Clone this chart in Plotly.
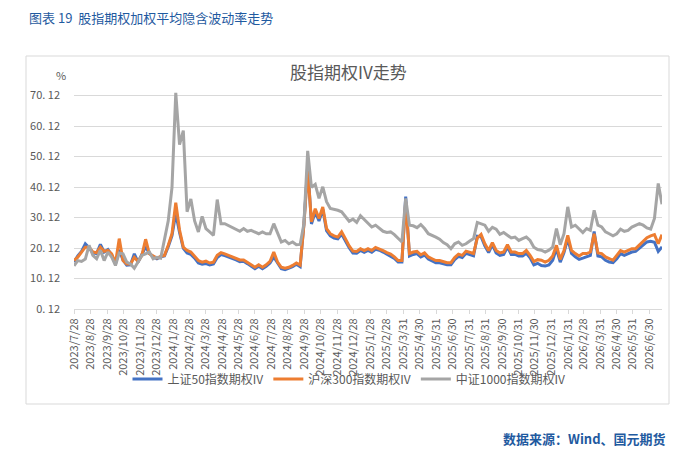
import pandas as pd
import plotly.graph_objects as go

# weekly readings (Fridays) of the weighted average IV, %
sz50_iv = [15.5, 17.5, 19.0, 21.5, 20.2, 18.5, 18.3, 21.3, 18.8, 19.6,
           17.8, 14.8, 19.5, 16.2, 14.5, 14.6, 18.2, 15.5, 18.0, 20.5,
           18.4, 17.3, 16.6, 17.2, 17.5, 20.5, 24.2, 31.5, 25.2, 20.0,
           18.5, 18.0, 16.8, 15.2, 14.8, 15.0, 14.6, 14.9, 17.0, 18.0,
           17.6, 17.2, 16.6, 16.2, 15.6, 15.8, 15.0, 14.1, 13.3, 14.1,
           13.3, 14.1, 15.2, 17.2, 15.0, 13.3, 13.0, 13.4, 14.0, 14.8,
           14.0, 28.0, 47.0, 28.0, 32.0, 29.0, 32.8, 25.8, 24.1, 23.4,
           23.1, 24.7, 22.5, 20.2, 18.5, 18.4, 19.3, 18.7, 19.3, 18.7,
           19.7, 19.4, 18.8, 18.1, 17.6, 16.7, 15.5, 15.5, 37.0, 17.5,
           18.0, 18.3, 17.2, 17.8, 16.5, 15.9, 15.3, 15.3, 15.0, 14.6,
           14.6, 16.3, 17.4, 17.0, 18.4, 17.9, 17.6, 24.0, 23.8, 20.8,
           18.6, 21.2, 18.5, 17.7, 18.0, 20.4, 18.0, 18.0, 17.5, 17.5,
           18.4, 16.9, 14.6, 15.1, 14.4, 14.2, 14.6, 16.1, 19.9, 15.5,
           18.6, 23.2, 18.3, 17.2, 16.4, 16.8, 17.2, 17.7, 25.5, 17.5,
           17.2, 16.1, 15.5, 15.3, 16.6, 18.3, 17.7, 18.3, 18.8, 19.0,
           20.1, 21.0, 22.1, 22.3, 22.0, 19.0, 20.5]

hs300_iv = [16.0, 17.1, 18.8, 20.4, 20.4, 18.8, 18.6, 20.4, 19.0, 19.3,
            18.2, 15.1, 23.2, 16.0, 14.9, 14.9, 17.1, 15.7, 17.7, 23.0,
            18.2, 17.4, 16.8, 17.4, 17.7, 21.0, 24.8, 35.0, 26.0, 20.4,
            19.3, 18.8, 17.4, 16.0, 15.5, 15.8, 15.2, 15.5, 17.7, 18.6,
            18.2, 17.7, 17.1, 16.6, 16.2, 16.2, 15.5, 14.6, 13.8, 14.6,
            13.8, 14.6, 15.7, 18.8, 15.5, 13.8, 13.5, 13.8, 14.4, 15.2,
            14.5, 27.6, 46.0, 28.7, 33.0, 29.8, 33.6, 26.5, 24.8, 24.1,
            23.7, 25.4, 23.2, 20.8, 19.1, 19.0, 19.9, 19.3, 19.9, 19.3,
            20.3, 19.9, 19.3, 18.6, 18.1, 17.2, 16.0, 16.0, 35.3, 18.3,
            18.8, 19.0, 17.9, 18.5, 17.2, 16.6, 16.0, 16.0, 15.7, 15.3,
            15.3, 17.0, 18.1, 17.7, 19.1, 18.6, 18.3, 23.4, 24.6, 21.5,
            19.3, 21.9, 19.3, 18.5, 18.8, 21.2, 18.8, 18.8, 18.3, 18.3,
            19.3, 17.7, 15.7, 16.3, 16.1, 15.5, 16.1, 17.5, 21.0, 16.4,
            19.3, 24.3, 19.3, 18.3, 17.5, 18.3, 18.3, 18.8, 24.8, 18.5,
            18.3, 17.2, 16.6, 16.1, 17.7, 19.3, 18.8, 19.3, 19.9, 19.9,
            21.2, 22.3, 23.5, 24.1, 24.5, 21.5, 24.5]

zz1000_iv = [14.3, 16.0, 15.7, 16.5, 21.0, 17.7, 16.6, 19.4, 16.0, 18.8,
             17.1, 14.4, 18.5, 18.2, 15.5, 14.9, 13.5, 15.5, 17.7, 18.2,
             18.8, 16.6, 17.1, 16.8, 22.5, 29.0, 40.0, 71.0, 54.0, 58.6,
             32.0, 36.2, 29.0, 25.4, 30.5, 26.5, 25.4, 24.3, 36.0, 28.1,
             28.1, 27.5, 27.0, 26.2, 25.6, 26.5, 25.6, 25.9, 25.4, 24.8,
             25.4, 24.8, 24.8, 28.1, 25.1, 22.1, 22.6, 21.5, 22.1, 21.2,
             21.3, 28.1, 52.0, 40.0, 41.0, 36.4, 40.2, 35.3, 33.1, 32.9,
             32.5, 32.0, 30.3, 28.9, 29.6, 28.5, 30.7, 29.5, 28.2, 27.0,
             27.6, 26.5, 25.6, 25.2, 25.4, 24.5, 23.2, 22.1, 36.4, 27.6,
             27.4, 26.8, 27.8, 26.5, 24.8, 24.3, 23.7, 23.0, 21.9, 21.2,
             19.9, 21.5, 22.1, 21.0, 21.5, 22.4, 23.2, 28.5, 28.1, 27.6,
             25.6, 26.9, 26.3, 24.6, 25.2, 24.3, 23.4, 23.7, 22.6, 23.2,
             23.7, 22.6, 20.4, 19.6, 19.4, 18.8, 19.4, 20.4, 26.5, 21.2,
             24.8, 33.6, 27.0, 27.6, 26.5, 25.2, 26.5, 25.9, 32.5, 27.6,
             27.0, 25.4, 24.8, 24.1, 24.8, 26.3, 25.6, 25.9, 27.0, 27.6,
             28.1, 27.6, 26.7, 26.3, 29.8, 41.3, 34.5]

dates = pd.date_range("2023-07-28", periods=len(zz1000_iv), freq="7D")

tick_dates = ["2023-07-28", "2023-08-28", "2023-09-28", "2023-10-28", "2023-11-28",
              "2023-12-28", "2024-01-28", "2024-02-28", "2024-03-28", "2024-04-28",
              "2024-05-28", "2024-06-28", "2024-07-28", "2024-08-28", "2024-09-28",
              "2024-10-28", "2024-11-28", "2024-12-28", "2025-01-28", "2025-02-28",
              "2025-03-31", "2025-04-30", "2025-05-31", "2025-06-30", "2025-07-31",
              "2025-08-31", "2025-09-30", "2025-10-31", "2025-11-30", "2025-12-31",
              "2026-01-31", "2026-02-28", "2026-03-31", "2026-04-30", "2026-05-31",
              "2026-06-30"]
tick_text = [pd.Timestamp(d).strftime("%Y/%-m/%-d") for d in tick_dates]

y_ticks = [0.12, 10.12, 20.12, 30.12, 40.12, 50.12, 60.12, 70.12]
y_text = ["%d. 12" % int(v) for v in y_ticks]

FONT = "Noto Sans CJK SC"
GREY_TXT = "#595959"
BLUE_TXT = "#1f5aa0"

# pixel -> paper helpers (plot area is 66..654 x 83..301 px)
L, R, T, B = 66, 654, 83, 301
def px(x):
    return (x - L) / (R - L)
def py(y):
    return (B - y) / (B - T)

fig = go.Figure()
fig.add_trace(go.Scatter(x=dates, y=sz50_iv, mode="lines", name="上证50指数期权IV",
                         line=dict(color="#4472c4", width=3)))
fig.add_trace(go.Scatter(x=dates, y=hs300_iv, mode="lines", name="沪深300指数期权IV",
                         line=dict(color="#ed7d31", width=3)))
fig.add_trace(go.Scatter(x=dates, y=zz1000_iv, mode="lines", name="中证1000指数期权IV",
                         line=dict(color="#a5a5a5", width=3)))

fig.update_xaxes(type="date", range=[dates[0], dates[-1]],
                 tickvals=tick_dates, ticktext=tick_text, tickangle=-90,
                 tickfont=dict(size=11, color=GREY_TXT, family=FONT),
                 showgrid=False, showline=True, linecolor="#d9d9d9", linewidth=1,
                 ticks="outside", ticklen=4, tickcolor="#d9d9d9", zeroline=False)
fig.update_yaxes(range=[0.12, 71.6], tickvals=y_ticks, ticktext=y_text,
                 tickfont=dict(size=11, color=GREY_TXT, family=FONT),
                 showgrid=True, gridcolor="#d9d9d9", gridwidth=1,
                 showline=False, zeroline=False, ticks="", ticklabelstandoff=13)

fig.update_layout(
    width=694, height=472,
    margin=dict(l=L, r=694 - R, t=T, b=472 - B),
    paper_bgcolor="white", plot_bgcolor="white",
    font=dict(family=FONT, color=GREY_TXT),
    showlegend=True,
    legend=dict(orientation="h", x=px(341), y=py(371), xanchor="center", yanchor="middle",
                font=dict(size=12, color=GREY_TXT, family=FONT), bgcolor="rgba(0,0,0,0)"),
    shapes=[dict(type="rect", xref="paper", yref="paper",
                 x0=px(18), x1=px(661), y0=py(396), y1=py(48),
                 line=dict(color="#d9d9d9", width=1), layer="below")],
    annotations=[
        dict(text="图表 19  股指期权加权平均隐含波动率走势", xref="paper", yref="paper",
             x=px(19), y=py(9), xanchor="left", yanchor="middle", showarrow=False,
             font=dict(size=13, color=BLUE_TXT, family=FONT)),
        dict(text="股指期权IV走势", xref="paper", yref="paper",
             x=px(340), y=py(64), xanchor="center", yanchor="middle", showarrow=False,
             font=dict(size=17, color=GREY_TXT, family=FONT)),
        dict(text="%", xref="paper", yref="paper",
             x=px(53), y=py(67), xanchor="center", yanchor="middle", showarrow=False,
             font=dict(size=11, color=GREY_TXT, family=FONT)),
        dict(text="<b>数据来源：Wind、国元期货</b>", xref="paper", yref="paper",
             x=px(660), y=py(430), xanchor="right", yanchor="middle", showarrow=False,
             font=dict(size=13, color=BLUE_TXT, family=FONT)),
    ],
)

fig.write_html("out.html")
